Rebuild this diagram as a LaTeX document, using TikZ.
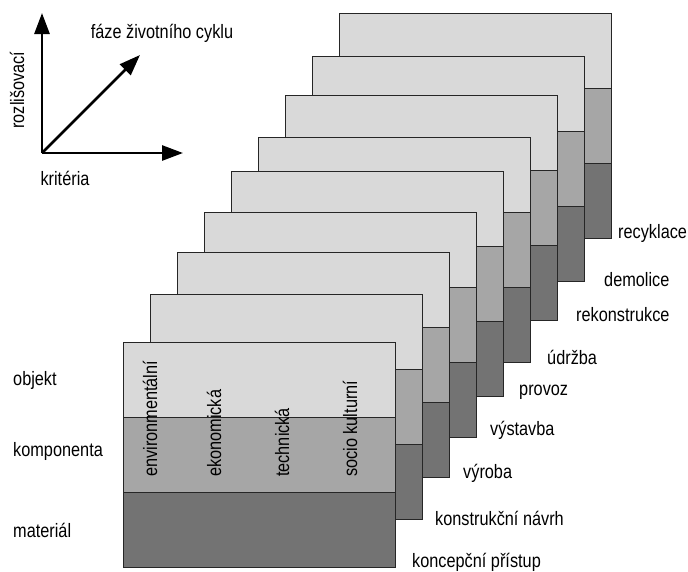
\documentclass[tikz,border=0pt]{standalone}
\usepackage{fontspec}
\setmainfont{Liberation Sans}[FakeStretch=0.84]
\usetikzlibrary{positioning, arrows.meta}

\definecolor{lightband}{HTML}{D9D9D9}
\definecolor{midband}{HTML}{A6A6A6}
\definecolor{darkband}{HTML}{737373}

\begin{document}
\begin{tikzpicture}[x=1pt, y=-1pt, font=\fontsize{19.4}{23}\selectfont,
    band/.style={draw=black!85, line width=0.9pt, inner sep=0pt, outer sep=0pt,
                 minimum width=272pt, minimum height=75pt},
    crit/.style={rotate=90, anchor=west, inner sep=0pt},
    axis/.style={line width=2.7pt, -{Triangle[length=21pt, width=15pt]}}]
    \useasboundingbox (0,0) rectangle (688,571);

    % axes
    \coordinate (origin) at (42,153);
    \coordinate (yend)   at (42,13);
    \coordinate (xend)   at (183,153);
    \coordinate (zend)   at (140,55);
    \draw[axis] (origin) -- (yend);
    \draw[axis] (origin) -- (xend);
    \draw[axis] (origin) -- (zend);
    \node                (faze)   at (162,33) {fáze životního cyklu};
    \node[rotate=90]     (rozlis) at (17,90)  {rozlišovací};
    \node                (krit)   at (65,178) {kritéria};

    % phases, back to front
    \foreach \i/\top/\name/\lx/\ly in {8/13/recyklace/618/233, 7/56/demolice/604/280,
            6/95/rekonstrukce/576/315, 5/137/údržba/547/357, 4/171/provoz/519/392,
            3/212/výstavba/490/430, 2/252/výroba/463/473,
            1/294/konstrukční návrh/435/518, 0/342/koncepční přístup/412/562} {
        \node[band, fill=lightband, anchor=north west] (obj \i) at (123+27.1*\i, \top) {};
        \node[band, fill=midband,  below=0pt of obj \i]  (komp \i) {};
        \node[band, fill=darkband, below=0pt of komp \i] (mat \i)  {};
        \node[anchor=west, inner sep=0pt] (phase \i) at (\lx,\ly) {\name};
    }

    % levels
    \node[anchor=west, inner sep=0pt] (objekt)     at (13,380) {objekt};
    \node[anchor=west, inner sep=0pt] (komponenta) at (13,451) {komponenta};
    \node[anchor=west, inner sep=0pt] (material)   at (13,530) {materiál};

    % criteria
    \node[crit] (env)  at (150,477) {environmentální};
    \node[crit] (ekon) at (214,477) {ekonomická};
    \node[crit] (tech) at (282,477) {technická};
    \node[crit] (soc)  at (350,477) {socio kulturní};
\end{tikzpicture}
\end{document}
